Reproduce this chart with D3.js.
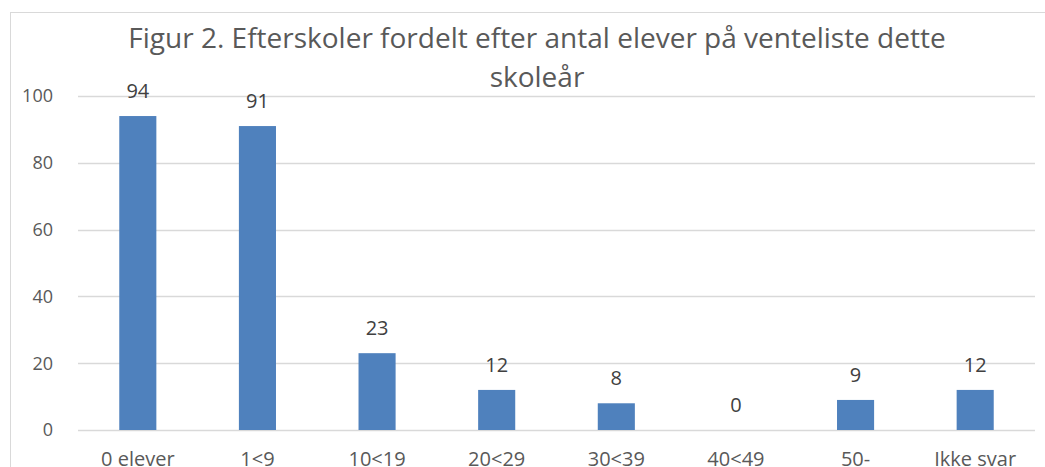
<script src="https://d3js.org/d3.v7.min.js"></script>
<style>
  body { margin: 0; background: #fff; }
  text { font-family: "Open Sans", sans-serif; }
</style>
<svg id="chart" width="1045" height="467"></svg>
<script>
  const categories = ["0 elever", "1<9", "10<19", "20<29", "30<39", "40<49", "50-", "Ikke svar"]
  const values = [94, 91, 23, 12, 8, 0, 9, 12]
  const yTicks = [0, 20, 40, 60, 80, 100]
  const titleLines = ["Figur 2. Efterskoler fordelt efter antal elever på venteliste dette", "skoleår"]

  const svg = d3.select("#chart")
  const margin = {top: 96, right: 10, bottom: 37, left: 78}
  const width = 1045 - margin.left - margin.right
  const height = 467 - margin.top - margin.bottom

  // chart border
  svg.append("rect")
    .attr("x", 10.5).attr("y", 12.5)
    .attr("width", 1045).attr("height", 467)
    .attr("fill", "none").attr("stroke", "#d9d9d9")

  const x = d3.scaleBand().domain(categories).range([0, width]).paddingInner(0.69).paddingOuter(0.345)
  const y = d3.scaleLinear().domain([0, 100]).range([height, 0])

  const g = svg.append("g").attr("transform", "translate(" + margin.left + "," + margin.top + ")")

  // gridlines
  g.selectAll(".grid")
    .data(yTicks).enter()
    .append("line")
    .attr("x1", 0).attr("x2", width)
    .attr("y1", d => Math.round(y(d)) + 0.5).attr("y2", d => Math.round(y(d)) + 0.5)
    .attr("stroke", "#d9d9d9").attr("stroke-width", 1.5)

  // y labels
  g.selectAll(".ylab")
    .data(yTicks).enter()
    .append("text")
    .attr("x", -25).attr("y", d => y(d))
    .attr("dy", "0.35em")
    .attr("text-anchor", "end")
    .style("font-size", "18px").attr("fill", "#595959")
    .text(d => d)

  // title
  svg.selectAll(".title")
    .data(titleLines).enter()
    .append("text")
    .attr("x", 537).attr("y", (d, i) => 48 + i * 39)
    .attr("text-anchor", "middle")
    .style("font-size", "28px").attr("fill", "#595959")
    .text(d => d)

  // bars
  g.selectAll(".bar")
    .data(values).enter()
    .append("rect")
    .attr("x", (d, i) => x(categories[i]))
    .attr("width", x.bandwidth())
    .attr("y", d => y(d))
    .attr("height", d => height - y(d))
    .attr("fill", "#4f81bd")

  // value labels
  g.selectAll(".val")
    .data(values).enter()
    .append("text")
    .attr("x", (d, i) => x(categories[i]) + x.bandwidth() / 2)
    .attr("y", d => y(d) - 18)
    .attr("text-anchor", "middle")
    .style("font-size", "20px").attr("fill", "#404040")
    .text(d => d)

  // category labels
  g.selectAll(".cat")
    .data(categories).enter()
    .append("text")
    .attr("x", d => x(d) + x.bandwidth() / 2)
    .attr("y", height + 36)
    .attr("text-anchor", "middle")
    .style("font-size", "20px").attr("fill", "#595959")
    .text(d => d)
</script>
